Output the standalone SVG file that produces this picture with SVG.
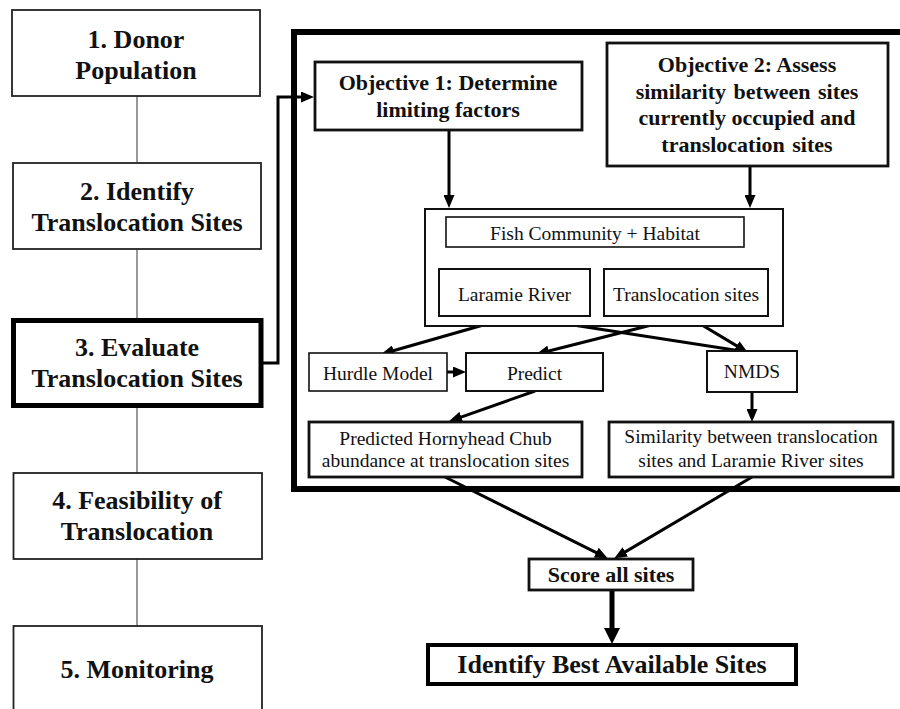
<svg xmlns="http://www.w3.org/2000/svg" width="900" height="709" viewBox="0 0 900 709">
<style>
text{font-family:"Liberation Serif","Times New Roman",serif;fill:#111;text-anchor:middle}
.b26{font-size:26px;font-weight:bold}
.b22{font-size:22px;font-weight:bold}
.r20{font-size:19.5px}
.step{fill:#fff;stroke:#222;stroke-width:1.8}
.thin{fill:#fff;stroke:#111;stroke-width:1.6}
.med{fill:#fff;stroke:#111;stroke-width:2}
.bold{fill:#fff;stroke:#111;stroke-width:2.8}
.link{fill:none;stroke:#555;stroke-width:1.2}
.sub{fill:none;stroke:#444;stroke-width:1}
.arrow{fill:none;stroke:#000;stroke-width:3;marker-end:url(#ah)}
</style>
<defs>
<marker id="ah" markerUnits="userSpaceOnUse" markerWidth="13" markerHeight="11" refX="4" refY="5.5" orient="auto">
<path d="M0,0 L13,5.5 L0,11 z" fill="#000"/>
</marker>
<marker id="ahBig" markerUnits="userSpaceOnUse" markerWidth="16" markerHeight="16" refX="4" refY="8" orient="auto">
<path d="M0,0 L16,8 L0,16 z" fill="#000"/>
</marker>
</defs>
<rect width="900" height="709" fill="#fff"/>

<g id="connectors">
<line class="link" x1="137" y1="96" x2="137" y2="163"/>
<line class="link" x1="137" y1="249" x2="137" y2="318"/>
<line class="link" x1="137" y1="408" x2="137" y2="473"/>
<line class="link" x1="137" y1="559" x2="137" y2="626"/>
<path class="arrow" d="M262,363 H278 V97 H305"/>
<path class="arrow" d="M449,131 V199"/>
<path class="arrow" d="M750,166 V199"/>
<line class="sub" x1="595" y1="247" x2="516" y2="269"/>
<line class="sub" x1="595" y1="247" x2="684" y2="269"/>
<path class="arrow" d="M515,316 L389.7,351.8"/>
<path class="arrow" d="M515,316 L739.1,350.8"/>
<path class="arrow" d="M687,316 L544.8,352"/>
<path class="arrow" d="M687,316 L740.1,347.9"/>
<path class="arrow" d="M447,372 H457"/>
<path class="arrow" d="M535,391 L457.5,418.3"/>
<path class="arrow" d="M752,392 V413"/>
<path class="arrow" d="M445,477 L599.8,554.4"/>
<path class="arrow" d="M752,477 L621.9,553.9"/>
<path d="M612,590 V632" fill="none" stroke="#000" stroke-width="5" marker-end="url(#ahBig)"/>
</g>

<g id="frame">
<rect x="294" y="32" width="700" height="457" fill="none" stroke="#000" stroke-width="6"/>
</g>

<g id="step1">
<rect class="step" x="12" y="10" width="248" height="86"/>
<text class="b26" x="136" y="48">1. Donor</text>
<text class="b26" x="136" y="79">Population</text>
</g>
<g id="step2">
<rect class="step" x="13" y="163" width="248" height="86"/>
<text class="b26" x="137" y="200">2. Identify</text>
<text class="b26" x="137" y="231">Translocation Sites</text>
</g>
<g id="step3">
<rect x="13.5" y="320.5" width="247.5" height="85" fill="#fff" stroke="#000" stroke-width="5"/>
<text class="b26" x="137" y="356">3. Evaluate</text>
<text class="b26" x="137" y="387">Translocation Sites</text>
</g>
<g id="step4">
<rect class="step" x="13.5" y="473" width="248.5" height="86"/>
<text class="b26" x="137" y="509">4. Feasibility of</text>
<text class="b26" x="137" y="540">Translocation</text>
</g>
<g id="step5">
<rect class="step" x="13.5" y="626" width="248.5" height="90"/>
<text class="b26" x="137" y="678">5. Monitoring</text>
</g>

<g id="objective1">
<rect class="bold" x="315" y="62" width="267" height="68"/>
<text class="b22" x="448" y="90">Objective 1: Determine</text>
<text class="b22" x="448" y="117">limiting factors</text>
</g>
<g id="objective2">
<rect class="bold" x="607" y="43" width="281" height="123"/>
<text class="b22" x="747" y="72">Objective 2: Assess</text>
<text class="b22" x="747" y="99" word-spacing="2">similarity between sites</text>
<text class="b22" x="747" y="125">currently occupied and</text>
<text class="b22" x="747" y="152" word-spacing="2">translocation sites</text>
</g>

<g id="data-container">
<rect class="med" x="425" y="209" width="358" height="117"/>
</g>
<g id="fish-habitat">
<rect class="thin" x="446" y="217" width="298" height="30"/>
<text class="r20" x="595" y="240">Fish Community + Habitat</text>
</g>
<g id="laramie">
<rect class="med" x="439" y="269" width="151" height="47"/>
<text class="r20" x="514.5" y="301">Laramie River</text>
</g>
<g id="translocation-sites">
<rect class="med" x="604" y="269" width="164" height="47"/>
<text class="r20" x="686" y="301">Translocation sites</text>
</g>

<g id="hurdle">
<rect class="thin" x="309" y="353" width="138" height="38"/>
<text class="r20" x="378" y="380">Hurdle Model</text>
</g>
<g id="predict">
<rect class="med" x="466" y="353" width="137" height="38"/>
<text class="r20" x="534.5" y="380">Predict</text>
</g>
<g id="nmds">
<rect class="med" x="707" y="351" width="90" height="41"/>
<text class="r20" x="752" y="378">NMDS</text>
</g>

<g id="predicted-abundance">
<rect class="bold" x="309" y="422" width="273" height="55"/>
<text class="r20" x="445.5" y="445">Predicted Hornyhead Chub</text>
<text class="r20" x="445.5" y="467">abundance at translocation sites</text>
</g>
<g id="similarity">
<rect class="bold" x="609" y="422" width="284" height="55"/>
<text class="r20" x="751" y="443">Similarity between translocation</text>
<text class="r20" x="751" y="467">sites and Laramie River sites</text>
</g>

<g id="score">
<rect class="bold" x="529" y="559" width="164" height="31"/>
<text class="b22" x="611" y="582">Score all sites</text>
</g>
<g id="identify">
<rect x="428" y="645" width="368" height="39" fill="#fff" stroke="#000" stroke-width="4"/>
<text class="b26" x="612" y="673">Identify Best Available Sites</text>
</g>
</svg>
